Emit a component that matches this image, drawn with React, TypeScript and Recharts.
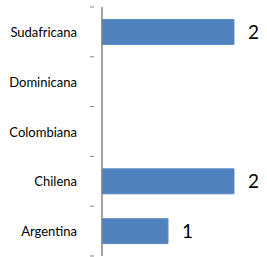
import { Bar, BarChart, LabelList, XAxis, YAxis } from "recharts";

const categories = ["Sudafricana", "Dominicana", "Colombiana", "Chilena", "Argentina"];
const counts = [2, 0, 0, 2, 1];

const rows = categories.map((name, i) => ({ name, value: counts[i] }));

const TOP = 7;
const BOTTOM = 1;
const HEIGHT = 257;
const BAND = (HEIGHT - TOP - BOTTOM) / categories.length;

function CategoryTick(props: any) {
  const { x, y, payload, index } = props;
  const last = index === categories.length - 1;
  return (
    <g>
      <line x1={x - 4} x2={x} y1={y - BAND / 2} y2={y - BAND / 2} stroke="#868686" />
      {last && <line x1={x - 4} x2={x} y1={y + BAND / 2} y2={y + BAND / 2} stroke="#868686" />}
      <text x={x - 17} y={y} dy={5} textAnchor="end" fontSize={13} fill="#000">
        {payload.value}
      </text>
    </g>
  );
}

export default function App() {
  return (
    <div style={{ position: "fixed", left: 0, top: 0, background: "#fff", fontFamily: "Lato, sans-serif" }}>
      <BarChart
        width={267}
        height={HEIGHT}
        data={rows}
        layout="vertical"
        margin={{ top: TOP, right: 33, bottom: BOTTOM, left: 0 }}
        barCategoryGap="25%"
      >
        <XAxis type="number" domain={[0, 2]} hide />
        <YAxis
          type="category"
          dataKey="name"
          width={102}
          axisLine={{ stroke: "#868686", strokeWidth: 1.5 }}
          tickLine={false}
          tick={<CategoryTick />}
          interval={0}
        />
        <Bar dataKey="value" fill="#4F81BD" stroke="#5B8CC6" isAnimationActive={false}>
          <LabelList
            dataKey="value"
            position="right"
            offset={14}
            fontSize={19}
            fill="#000"
            formatter={(v: any) => (v ? v : "")}
          />
        </Bar>
      </BarChart>
    </div>
  );
}
